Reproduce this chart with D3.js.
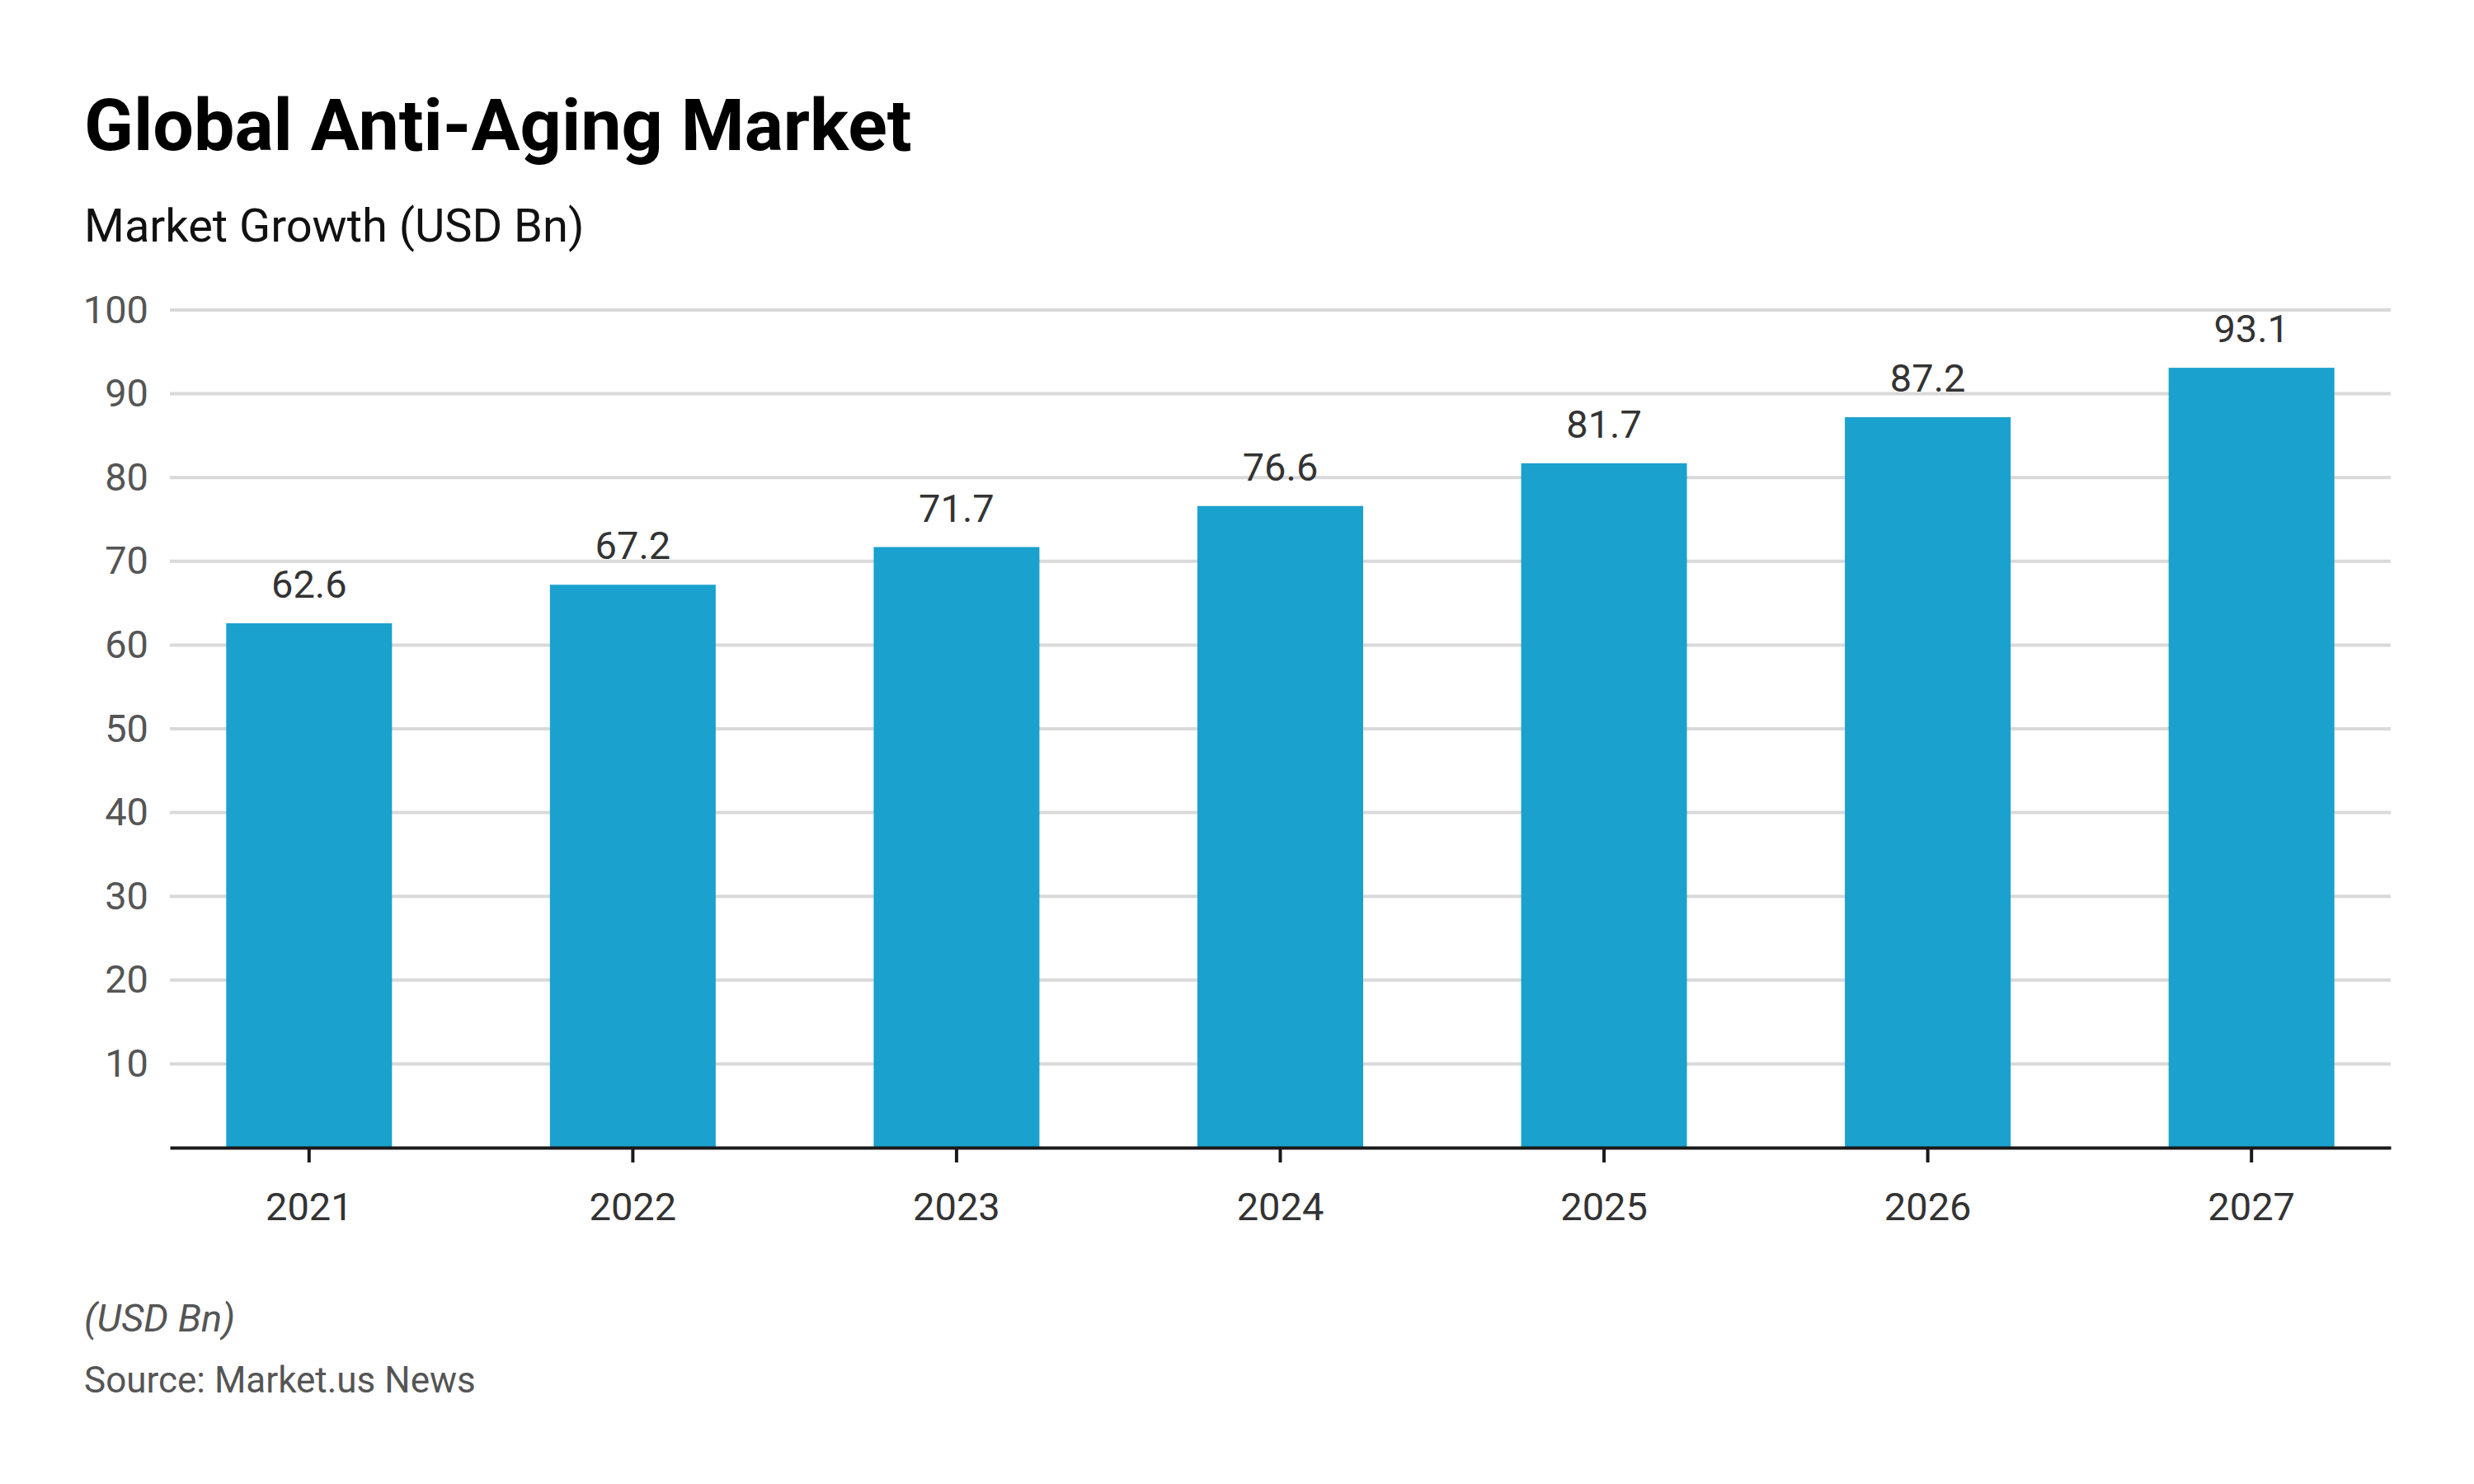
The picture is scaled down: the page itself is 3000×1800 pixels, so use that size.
<!DOCTYPE html>
<html>
<head>
<meta charset="utf-8">
<title>Global Anti-Aging Market</title>
<script src="https://d3js.org/d3.v7.min.js"></script>
<style>
  body { margin: 0; background: #fff; }
  text { font-family: Roboto, "Noto Sans", sans-serif; }
</style>
</head>
<body>
<svg id="mainsvg" width="3000" height="1800"></svg>
<script>
// ---------- data ----------
const years = ["2021", "2022", "2023", "2024", "2025", "2026", "2027"];
const marketValues = [62.6, 67.2, 71.7, 76.6, 81.7, 87.2, 93.1];
const yTicks = [10, 20, 30, 40, 50, 60, 70, 80, 90, 100];

const svg = d3.select("#mainsvg");
svg.append("rect").attr("width", 3000).attr("height", 1800).attr("fill", "#fff");

// plot area
const plot = {left: 206, right: 2899, top: 376, bottom: 1392};

const xScale = d3.scaleBand().domain(years).range([plot.left, plot.right])
  .paddingInner(0.488).paddingOuter(0.174);
const yScale = d3.scaleLinear().domain([0, 100]).range([plot.bottom, plot.top]);

// title + subtitle
svg.append("text").attr("x", 102).attr("y", 182)
  .attr("font-size", 88).attr("font-weight", 700).attr("fill", "#000")
  .text("Global Anti-Aging Market");
svg.append("text").attr("x", 102).attr("y", 293)
  .attr("font-size", 56).attr("fill", "#111")
  .text("Market Growth (USD Bn)");

// gridlines
svg.append("g").selectAll("line").data(yTicks).join("line")
  .attr("x1", plot.left).attr("x2", plot.right)
  .attr("y1", d => yScale(d)).attr("y2", d => yScale(d))
  .attr("stroke", "#d9d9d9").attr("stroke-width", 4);

// y axis labels
const yAxis = d3.axisLeft(yScale).tickValues(yTicks).tickSize(0).tickPadding(26);
const yg = svg.append("g").attr("transform", `translate(${plot.left},0)`).call(yAxis);
yg.select(".domain").remove();
yg.selectAll("text").attr("font-size", 47).attr("fill", "#555")
  .attr("font-family", "Roboto");

// bars
svg.append("g").selectAll("rect").data(marketValues).join("rect")
  .attr("x", (d, i) => xScale(years[i]))
  .attr("y", d => yScale(d))
  .attr("width", xScale.bandwidth())
  .attr("height", d => yScale(0) - yScale(d))
  .attr("fill", "#1aa1cd");

// value labels
svg.append("g").selectAll("text").data(marketValues).join("text")
  .attr("x", (d, i) => xScale(years[i]) + xScale.bandwidth() / 2)
  .attr("y", d => yScale(d) - 31)
  .attr("text-anchor", "middle")
  .attr("font-size", 47).attr("fill", "#333")
  .text(d => d.toFixed(1));

// x axis
const xAxis = d3.axisBottom(xScale).tickSize(18).tickSizeOuter(0).tickPadding(37);
const xg = svg.append("g").attr("transform", `translate(0,${plot.bottom})`).call(xAxis);
xg.select(".domain").attr("stroke", "#1a1a1a").attr("stroke-width", 4);
xg.selectAll(".tick line").attr("stroke", "#1a1a1a").attr("stroke-width", 4);
xg.selectAll("text").attr("font-size", 47).attr("fill", "#333")
  .attr("font-family", "Roboto");

// footnotes
svg.append("text").attr("x", 102).attr("y", 1615)
  .attr("font-size", 47).attr("font-style", "italic").attr("fill", "#555")
  .text("(USD Bn)");
svg.append("text").attr("x", 102).attr("y", 1689)
  .attr("font-size", 44).attr("fill", "#555")
  .text("Source: Market.us News");
</script>
</body>
</html>
